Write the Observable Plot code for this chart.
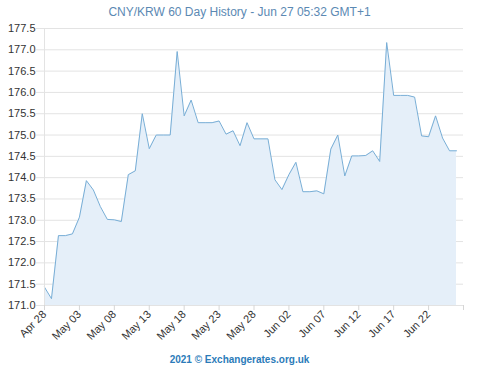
<!DOCTYPE html>
<html>
<head>
<meta charset="utf-8">
<script src="https://cdn.jsdelivr.net/npm/d3@7"></script>
<script src="https://cdn.jsdelivr.net/npm/@observablehq/plot@0.6"></script>
<style>
  html, body { margin: 0; padding: 0; background: #fff; }
  body { width: 500px; height: 370px; overflow: hidden; font-family: "Liberation Sans", Arial, sans-serif; }
  #title { height: 20px; line-height: 24px; font-size: 12px; color: #5b89b3; text-align: center; padding-right: 21px; white-space: nowrap; }
  #footer { height: 20px; line-height: 20px; font-size: 10px; font-weight: bold; color: #2b7bb9; text-align: center; padding-right: 21px; }
  #chart svg { display: block; }
</style>
</head>
<body>
<div id="title">CNY/KRW 60 Day History - Jun 27 05:32 GMT+1</div>
<div id="chart"></div>
<div id="footer">2021 © Exchangerates.org.uk</div>
<script>
const startDate = "2021-04-28";
const rates = [171.43,171.16,172.64,172.64,172.68,173.07,173.93,173.71,173.32,173.02,
               173.01,172.97,174.07,174.16,175.50,174.68,175.00,175.00,175.00,176.96,
               175.45,175.82,175.29,175.29,175.29,175.33,175.02,175.10,174.75,175.29,
               174.91,174.91,174.91,173.95,173.72,174.07,174.36,173.67,173.67,173.69,
               173.62,174.67,175.00,174.04,174.51,174.51,174.52,174.63,174.38,177.17,
               175.93,175.93,175.93,175.89,174.98,174.96,175.45,174.93,174.63,174.63];
const xTickDates = ["2021-04-28","2021-05-03","2021-05-08","2021-05-13","2021-05-18","2021-05-23",
                    "2021-05-28","2021-06-02","2021-06-07","2021-06-12","2021-06-17","2021-06-22","2021-06-27"];
const xTickLabels = ["Apr 28","May 03","May 08","May 13","May 18","May 23",
                     "May 28","Jun 02","Jun 07","Jun 12","Jun 17","Jun 22",""];
const yTicks = [171.0,171.5,172.0,172.5,173.0,173.5,174.0,174.5,175.0,175.5,176.0,176.5,177.0,177.5];
const xDomain = ["2021-04-28","2021-06-27"];

const start = new Date(startDate);
const data = rates.map((v, i) => ({date: d3.utcDay.offset(start, i), value: v}));
const tickDates = xTickDates.map(d => new Date(d));
const labelOf = new Map(tickDates.map((d, i) => [+d, xTickLabels[i]]));

const chart = Plot.plot({
  width: 500,
  height: 330,
  marginTop: 8,
  marginBottom: 45,
  marginLeft: 44,
  marginRight: 37,
  style: {fontFamily: "'Liberation Sans', Arial, sans-serif", fontSize: "11px", background: "#fff"},
  x: {type: "utc", domain: xDomain.map(d => new Date(d))},
  y: {domain: [171, 177.5]},
  marks: [
    Plot.gridY(yTicks, {stroke: "#e3e3e3", strokeOpacity: 1}),
    Plot.areaY(data, {x: "date", y1: 171, y2: "value", fill: "#e5eff9"}),
    Plot.lineY(data, {x: "date", y: "value", stroke: "#78aed6", strokeWidth: 1}),
    Plot.ruleX([new Date(xDomain[0])], {stroke: "#e3e3e3"}),
    Plot.axisY({ticks: yTicks, tickFormat: d3.format(".1f"), tickSize: 8, tickPadding: 1, stroke: "#e3e3e3", fill: "#333", label: null}),
    Plot.axisX({ticks: tickDates, tickFormat: d => labelOf.get(+d), tickRotate: -45, tickSize: 5, tickPadding: 2, stroke: "#d6d6d6", fill: "#333", label: null})
  ]
});
document.getElementById("chart").appendChild(chart);
</script>
</body>
</html>
